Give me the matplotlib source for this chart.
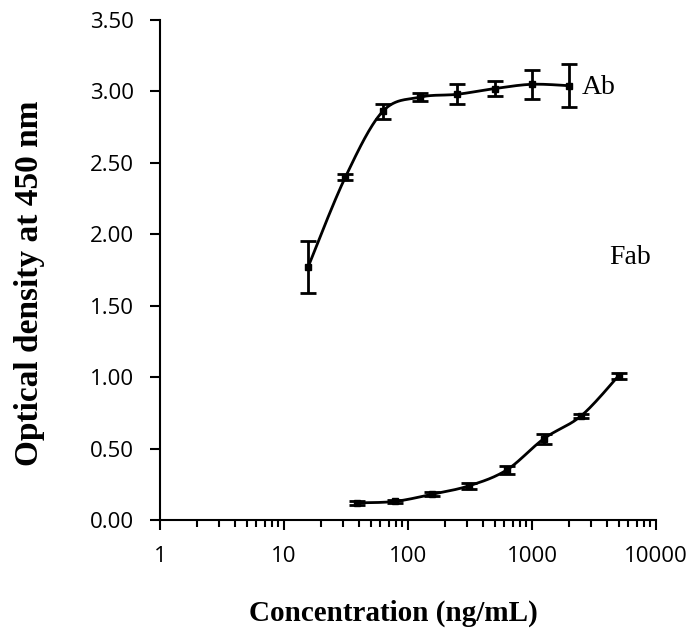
import numpy as np
import matplotlib
matplotlib.use("Agg")
import matplotlib.pyplot as plt
from matplotlib.ticker import FixedLocator, LogLocator, NullFormatter, FuncFormatter

# Data
ab_conc = [15.625, 31.25, 62.5, 125, 250, 500, 1000, 2000]
ab_od = [1.77, 2.40, 2.86, 2.96, 2.98, 3.02, 3.05, 3.04]
ab_err = [0.18, 0.02, 0.05, 0.03, 0.07, 0.05, 0.10, 0.15]

fab_conc = [39.0625, 78.125, 156.25, 312.5, 625, 1250, 2500, 5000]
fab_od = [0.12, 0.13, 0.18, 0.24, 0.35, 0.57, 0.73, 1.01]
fab_err = [0.015, 0.01, 0.015, 0.02, 0.025, 0.035, 0.015, 0.02]

y_ticks = [0.0, 0.5, 1.0, 1.5, 2.0, 2.5, 3.0, 3.5]
x_ticks = [1, 10, 100, 1000, 10000]

W, H = 691, 634
fig = plt.figure(figsize=(W / 100, H / 100), dpi=100)
ax = fig.add_axes([160 / W, 1 - 520 / H, (656 - 160) / W, (520 - 20) / H])
ax.set_xscale("log")
ax.set_xlim(1, 10000)
ax.set_ylim(0, 3.5)

# scaling for smoothing in screen-like space
SX, SY = 124.0, 143.0


def smooth(xs, ys, n=30):
    u = np.log10(np.asarray(xs, float)) * SX
    v = np.asarray(ys, float) * SY
    P = np.column_stack([u, v])
    out = []
    m = len(P)
    for i in range(m - 1):
        p0 = P[i - 1] if i > 0 else P[i]
        p1 = P[i]
        p2 = P[i + 1]
        p3 = P[i + 2] if i + 2 < m else P[i + 1]
        c1 = p1 + (p2 - p0) / 6.0
        c2 = p2 - (p3 - p1) / 6.0
        t = np.linspace(0, 1, n)[:, None]
        seg = ((1 - t) ** 3) * p1 + 3 * ((1 - t) ** 2) * t * c1 + 3 * (1 - t) * t ** 2 * c2 + t ** 3 * p2
        out.append(seg if i == 0 else seg[1:])
    out = np.vstack(out)
    return 10 ** (out[:, 0] / SX), out[:, 1] / SY


for xs, ys, es in [(ab_conc, ab_od, ab_err), (fab_conc, fab_od, fab_err)]:
    sx, sy = smooth(xs, ys)
    ax.plot(sx, sy, color="black", lw=2.0, zorder=2)
    ax.errorbar(xs, ys, yerr=es, fmt="s", color="black", ms=5, ecolor="black",
                elinewidth=2.0, capsize=5.5, capthick=2.0, zorder=3)

ax.text(2530, 3.03, "Ab", fontsize=20, family="Liberation Serif", va="center", ha="left")
ax.text(6200, 1.84, "Fab", fontsize=20, family="Liberation Serif", va="center", ha="center")

ax.spines["top"].set_visible(False)
ax.spines["right"].set_visible(False)
for s in ["left", "bottom"]:
    ax.spines[s].set_linewidth(1.5)

ax.yaxis.set_major_locator(FixedLocator(y_ticks))
ax.yaxis.set_major_formatter(FuncFormatter(lambda v, p: f"{v:.2f}"))
ax.xaxis.set_major_locator(FixedLocator(x_ticks))
ax.xaxis.set_major_formatter(FuncFormatter(lambda v, p: f"{int(round(v))}"))
ax.xaxis.set_minor_locator(LogLocator(base=10, subs=np.arange(2, 10)))
ax.xaxis.set_minor_formatter(NullFormatter())

ax.tick_params(axis="both", which="major", direction="out", length=7, width=1.5,
               labelsize=16, pad=12)
ax.tick_params(axis="x", which="minor", direction="out", length=5, width=1.5)
ax.tick_params(axis="x", which="major", pad=12)
for lab in ax.get_xticklabels() + ax.get_yticklabels():
    lab.set_family("Open Sans")

fig.text(393 / W, 1 - 613 / H, "Concentration (ng/mL)", fontsize=21, family="Liberation Serif",
         weight="bold", ha="center", va="center")
fig.text(30 / W, 1 - 283 / H, "Optical density at 450 nm", fontsize=24, family="Liberation Serif",
         weight="bold", ha="center", va="center", rotation=90)

fig.savefig("out.png", dpi=100)
